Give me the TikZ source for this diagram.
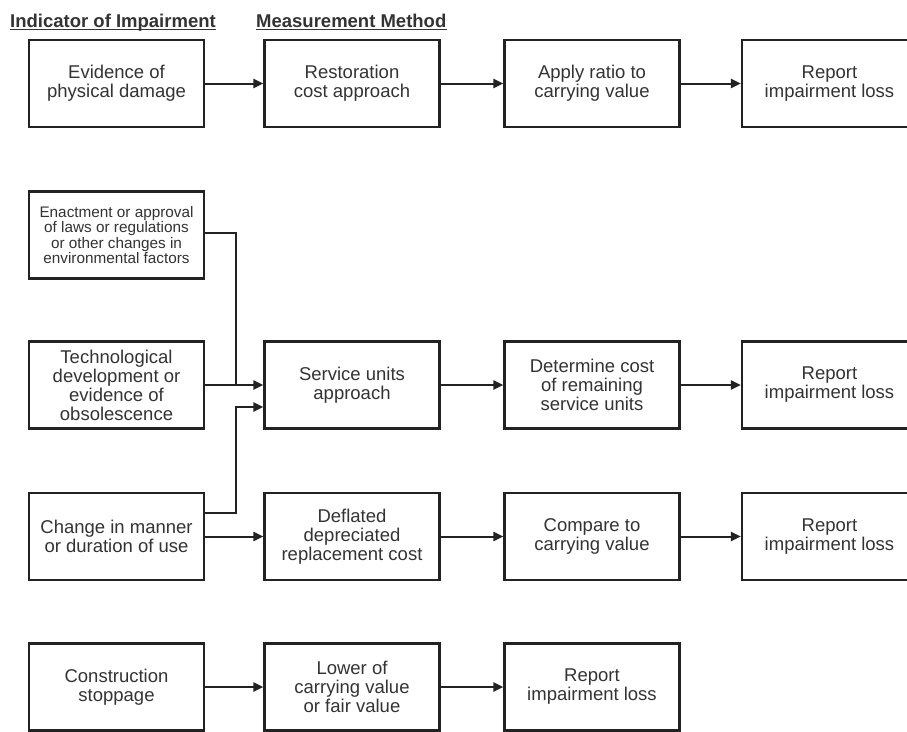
\documentclass[tikz,border=0pt]{standalone}
\usepackage{fontspec}
\setmainfont{Liberation Sans}
\usetikzlibrary{arrows.meta,calc}
\definecolor{ink}{HTML}{222222}
\definecolor{txt}{HTML}{333333}
\begin{document}
\begin{tikzpicture}[x=1pt,y=-1pt,
  box/.style={draw=ink,line width=2.2pt,minimum width=175pt,minimum height=87pt,
    inner sep=0pt,align=center,text=txt,font=\fontsize{18.5}{19}\selectfont},
  smallbox/.style={box,font=\fontsize{15.3}{15.6}\selectfont},
  conn/.style={draw=ink,line width=2pt},
  arr/.style={conn,-{Triangle[length=10pt,width=9pt]}},
  head/.style={anchor=base west,inner sep=0pt,text=txt,font=\fontsize{18.5}{19}\bfseries\selectfont},
  uline/.style={draw=txt,line width=1.6pt}]
\clip (0,0) rectangle (907,731);
\fill[white] (0,0) rectangle (907,731);
% headers
\node[head] (h1) at (10,27) {Indicator of Impairment};
\node[head] (h2) at (256,27) {Measurement Method};
\draw[uline] ($(h1.base west)+(0,2.5)$) -- ($(h1.base east)+(0,2.5)$);
\draw[uline] ($(h2.base west)+(0,2.5)$) -- ($(h2.base east)+(0,2.5)$);
% row 1
\node[box] (a1) at (116.5,83.5) {Evidence of\\physical damage};
\node[box] (a2) at (352,83.5) {Restoration\\cost approach};
\node[box] (a3) at (592,83.5) {Apply ratio to\\carrying value};
\node[box] (a4) at (829.5,83.5) {Report\\impairment loss};
\draw[arr] (a1.east) -- (a2.west);
\draw[arr] (a2.east) -- (a3.west);
\draw[arr] (a3.east) -- (a4.west);
% enactment
\node[smallbox] (en) at (116.5,235) {Enactment or approval\\of laws or regulations\\or other changes in\\environmental factors};
% row service units
\node[box] (t1) at (116.5,385) {Technological\\development or\\evidence of\\obsolescence};
\node[box] (t2) at (352,385) {Service units\\approach};
\node[box] (t3) at (592,385) {Determine cost\\of remaining\\service units};
\node[box] (t4) at (829.5,385) {Report\\impairment loss};
\draw[arr] (t1.east) -- (t2.west);
\draw[arr] (t2.east) -- (t3.west);
\draw[arr] (t3.east) -- (t4.west);
% row deflated
\node[box] (c1) at (116.5,536.5) {Change in manner\\or duration of use};
\node[box] (c2) at (352,536.5) {Deflated\\depreciated\\replacement cost};
\node[box] (c3) at (592,536.5) {Compare to\\carrying value};
\node[box] (c4) at (829.5,536.5) {Report\\impairment loss};
\draw[arr] (c1.east) -- (c2.west);
\draw[arr] (c2.east) -- (c3.west);
\draw[arr] (c3.east) -- (c4.west);
% junction connectors
\coordinate (jA) at (236,385);
\coordinate (jB) at (236,407);
\coordinate (chout) at ($(c1.east)+(0,-23.5)$);
\draw[conn] ($(en.east)+(0,-2)$) -| (jA);
\draw[arr] (chout) -| (jB) -- (t2.west |- jB);
% bottom row
\node[box] (s1) at (116.5,687) {Construction\\stoppage};
\node[box] (s2) at (352,687) {Lower of\\carrying value\\or fair value};
\node[box] (s3) at (592,687) {Report\\impairment loss};
\draw[arr] (s1.east) -- (s2.west);
\draw[arr] (s2.east) -- (s3.west);
\end{tikzpicture}
\end{document}
